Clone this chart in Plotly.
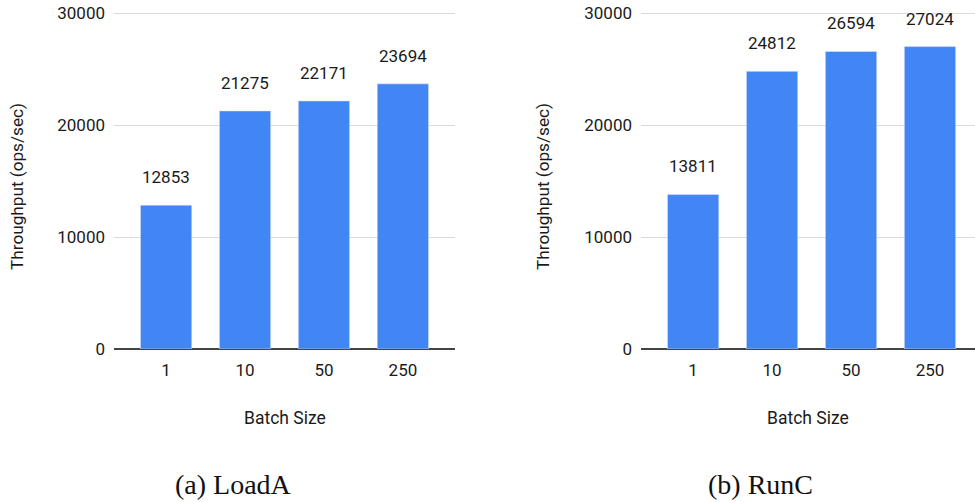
import plotly.graph_objects as go

categories = ["1", "10", "50", "250"]
loada_values = [12853, 21275, 22171, 23694]
runc_values = [13811, 24812, 26594, 27024]
y_ticks = [0, 10000, 20000, 30000]
y_tick_labels = ["0", "10000", "20000", "30000"]
captions = ["(a) LoadA", "(b) RunC"]

W, H = 975, 502
BAR = "#4285F4"
FONT = "Roboto, Arial, sans-serif"
TXT = "#1a1a1a"
YMAX = 30250

ZERO_PX, TOP_TICK_PX = 349, 13.3   # pixel rows of 0 and 30000

def px_x(p):
    return p / W

def px_y(p):
    return 1 - p / H

idx = list(range(len(categories)))

top_px = ZERO_PX - (ZERO_PX - TOP_TICK_PX) * YMAX / 30000

fig = go.Figure()
fig.add_trace(go.Bar(x=idx, y=loada_values, marker_color=BAR, width=0.65,
                     xaxis="x", yaxis="y", hoverinfo="y"))
fig.add_trace(go.Bar(x=idx, y=runc_values, marker_color=BAR, width=0.65,
                     xaxis="x2", yaxis="y2", hoverinfo="y"))

annotations = []
for xa, ya, vals in (("x", "y", loada_values), ("x2", "y2", runc_values)):
    for i, v in zip(idx, vals):
        annotations.append(dict(x=i, y=v, xref=xa, yref=ya, text=str(v), showarrow=False,
                                yshift=28, yanchor="middle",
                                font=dict(family=FONT, size=17, color=TXT)))

# axis titles and captions
for cx, tx, cap_x, cap in ((285, 17, 233, captions[0]), (808, 543, 760, captions[1])):
    annotations.append(dict(x=px_x(cx), y=px_y(418), xref="paper", yref="paper",
                            text="Batch Size", showarrow=False, xanchor="center", yanchor="middle",
                            font=dict(family=FONT, size=17.5, color=TXT)))
    annotations.append(dict(x=px_x(tx), y=px_y(187), xref="paper", yref="paper",
                            text="Throughput (ops/sec)", showarrow=False, textangle=-90,
                            xanchor="center", yanchor="middle",
                            font=dict(family=FONT, size=17.2, color=TXT)))
    annotations.append(dict(x=px_x(cap_x), y=px_y(484), xref="paper", yref="paper",
                            text=cap, showarrow=False, xanchor="center", yanchor="middle",
                            font=dict(family="Liberation Serif, serif", size=28, color="#111")))

xcommon = dict(type="linear", showgrid=False, zeroline=False, showline=False,
               tickvals=idx, ticktext=categories,
               tickfont=dict(family=FONT, size=17, color=TXT), ticks="",
               ticklabelstandoff=9, fixedrange=True, automargin=False)
ycommon = dict(range=[0, YMAX], tickvals=y_ticks, ticktext=y_tick_labels,
               showgrid=True, gridcolor="#dadada",
               gridwidth=1, zeroline=True, zerolinecolor="#444", zerolinewidth=1.5,
               showline=False, tickfont=dict(family=FONT, size=17, color=TXT),
               ticklabelstandoff=8, ticklabeloverflow="allow",
               fixedrange=True, automargin=False)

fig.update_layout(
    width=W, height=H,
    margin=dict(l=0, r=0, t=0, b=0, autoexpand=False),
    paper_bgcolor="white", plot_bgcolor="white",
    showlegend=False,
    xaxis=dict(domain=[px_x(114), px_x(455)], range=[-0.66, 3.66], anchor="y", **xcommon),
    yaxis=dict(domain=[px_y(ZERO_PX), px_y(top_px)], anchor="x", **ycommon),
    xaxis2=dict(domain=[px_x(641), 1.0], range=[-0.66, 3.57], anchor="y2", **xcommon),
    yaxis2=dict(domain=[px_y(ZERO_PX), px_y(top_px)], anchor="x2", **ycommon),
    annotations=annotations,
)

# remove the browser's default 8px body margin so the figure fills the window
fig.write_html("out.html", config={"displayModeBar": False},
               post_script="document.body.style.margin='0';document.body.style.overflow='hidden';")
